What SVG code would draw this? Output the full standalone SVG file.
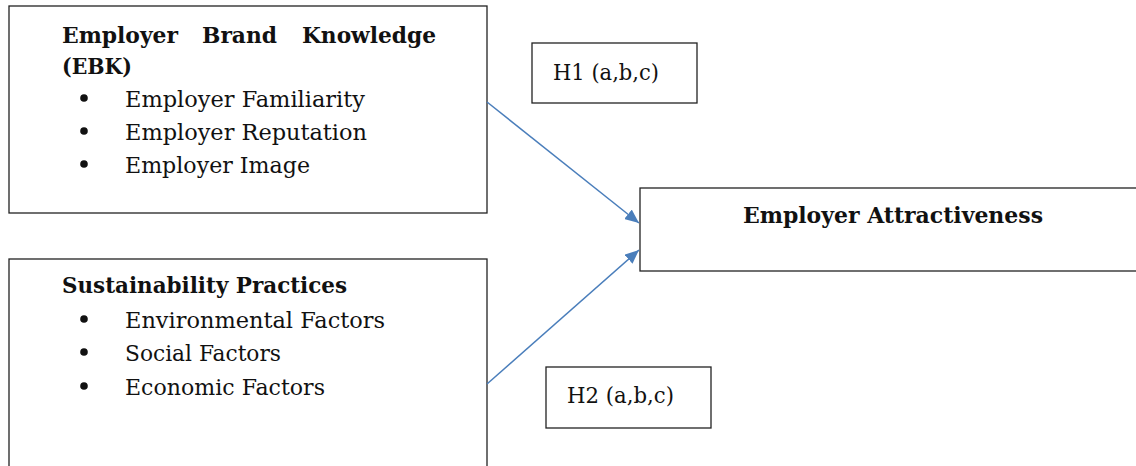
<svg xmlns="http://www.w3.org/2000/svg" width="1136" height="466" viewBox="0 0 1136 466">
<style>
.box{fill:#fff;stroke:#222;stroke-width:1.3}
.t{font-family:"DejaVu Serif","Liberation Serif",serif;font-size:22px;fill:#111}
.b{font-family:"DejaVu Serif","Liberation Serif",serif;font-size:22px;font-weight:bold;fill:#111}
.bul{fill:#111}
.con{stroke:#4A7EBB;stroke-width:1.5;fill:none}
</style>
<defs>
<marker id="ah" viewBox="0 0 14 12" refX="14" refY="6" markerWidth="14" markerHeight="12" markerUnits="userSpaceOnUse" orient="auto">
<path d="M0,0 L14,6 L0,12 z" fill="#4A7EBB"/>
</marker>
</defs>
<rect width="1136" height="466" fill="#fff"/>
<g id="ebk">
<rect class="box" x="9" y="6" width="478" height="207"/>
<text class="b" x="62" y="43" textLength="116" lengthAdjust="spacingAndGlyphs">Employer</text>
<text class="b" x="202" y="43" textLength="75" lengthAdjust="spacingAndGlyphs">Brand</text>
<text class="b" x="302" y="43" textLength="134" lengthAdjust="spacingAndGlyphs">Knowledge</text>
<text class="b" x="62" y="74" textLength="70" lengthAdjust="spacingAndGlyphs">(EBK)</text>
<circle class="bul" cx="84" cy="98" r="3.8"/>
<circle class="bul" cx="84" cy="131" r="3.8"/>
<circle class="bul" cx="84" cy="164" r="3.8"/>
<text class="t" x="125" y="107" textLength="240" lengthAdjust="spacingAndGlyphs">Employer Familiarity</text>
<text class="t" x="125" y="140" textLength="242" lengthAdjust="spacingAndGlyphs">Employer Reputation</text>
<text class="t" x="125" y="173" textLength="185" lengthAdjust="spacingAndGlyphs">Employer Image</text>
</g>
<g id="sp">
<rect class="box" x="9" y="259" width="478" height="215"/>
<text class="b" x="62" y="293" textLength="285" lengthAdjust="spacingAndGlyphs">Sustainability Practices</text>
<circle class="bul" cx="84" cy="319" r="3.8"/>
<circle class="bul" cx="84" cy="352" r="3.8"/>
<circle class="bul" cx="84" cy="386" r="3.8"/>
<text class="t" x="125" y="328" textLength="260" lengthAdjust="spacingAndGlyphs">Environmental Factors</text>
<text class="t" x="125" y="361" textLength="156" lengthAdjust="spacingAndGlyphs">Social Factors</text>
<text class="t" x="125" y="395" textLength="200" lengthAdjust="spacingAndGlyphs">Economic Factors</text>
</g>
<g id="h1">
<rect class="box" x="532" y="43" width="165" height="60"/>
<text class="t" x="553" y="80" textLength="106" lengthAdjust="spacingAndGlyphs">H1 (a,b,c)</text>
</g>
<g id="h2">
<rect class="box" x="546" y="367" width="165" height="61"/>
<text class="t" x="567" y="403" textLength="107" lengthAdjust="spacingAndGlyphs">H2 (a,b,c)</text>
</g>
<g id="ea">
<rect class="box" x="640" y="188" width="500" height="83"/>
<text class="b" x="743" y="223" textLength="300" lengthAdjust="spacingAndGlyphs">Employer Attractiveness</text>
</g>
<g id="connectors">
<line class="con" x1="487" y1="102" x2="639" y2="223" marker-end="url(#ah)"/>
<line class="con" x1="487" y1="384" x2="639" y2="250" marker-end="url(#ah)"/>
</g>
</svg>
